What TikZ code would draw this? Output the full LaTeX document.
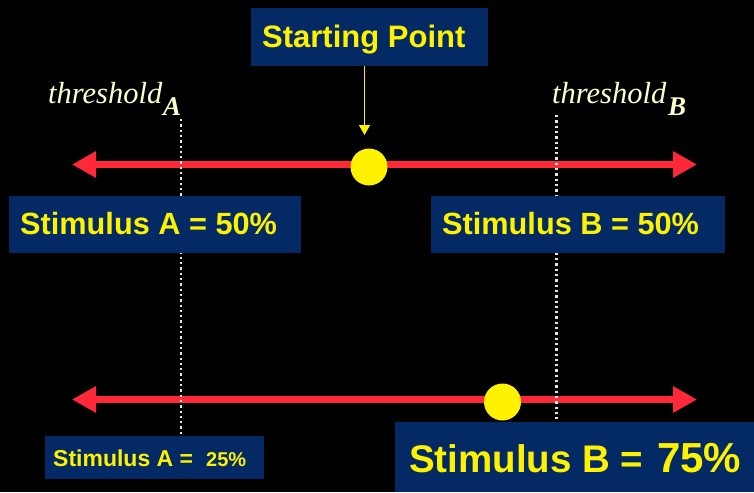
\documentclass[tikz,border=0pt]{standalone}
\usepackage{fontspec}
\setmainfont{Liberation Sans}
\newfontfamily\serifit{Liberation Serif}
\usetikzlibrary{arrows.meta}
\definecolor{navy}{RGB}{4,42,102}
\definecolor{redline}{RGB}{255,40,56}
\definecolor{cream}{RGB}{255,255,204}
\definecolor{dotgray}{RGB}{230,230,230}
\tikzset{
  panel/.style={fill=navy,draw=none,inner sep=0pt,anchor=north west},
  lbl/.style={text=yellow,font=\bfseries,inner sep=0pt,anchor=base west},
  scale line/.style={draw=redline,line width=7pt,
    {Triangle[length=24pt,width=25pt]}-{Triangle[length=24pt,width=25pt]}},
  thr/.style={draw=dotgray,line width=2.3pt,dash pattern=on 2.3pt off 3pt},
  thrlbl/.style={text=cream,inner sep=0pt,anchor=base west},
  thrword/.style={thrlbl,font=\serifit\itshape\fontsize{30.5}{30}\selectfont},
  thrsub/.style={thrlbl,font=\serifit\bfseries\itshape\fontsize{27}{27}\selectfont},
  marker/.style={circle,fill=yellow,draw=none,minimum size=37pt,inner sep=0pt},
  pointer/.style={draw=yellow,line width=1.5pt,-{Triangle[length=10pt,width=11pt]}}
}
\begin{document}
\begin{tikzpicture}[x=1pt,y=-1pt]
\fill[black] (0,0) rectangle (754,492);
\useasboundingbox (0,0) rectangle (754,492);

% scale lines
\coordinate (l1a) at (72,164.5);
\coordinate (l1b) at (697,164.5);
\coordinate (l2a) at (72,399.5);
\coordinate (l2b) at (697,399.5);
\draw[scale line] (l1a) -- (l1b);
\draw[scale line] (l2a) -- (l2b);

% thresholds
\coordinate (tAtop) at (181,119);
\coordinate (tAbot) at (181,440);
\coordinate (tBtop) at (556.5,115);
\coordinate (tBbot) at (556.5,425);
\draw[thr] (tAtop) -- (tAbot);
\draw[thr] (tBtop) -- (tBbot);
\node[thrword] (thA) at (48,104) {threshold};
\node[thrsub] (thAs) at (163,116) {A};
\node[thrword] (thB) at (552,104) {threshold};
\node[thrsub] (thBs) at (668,116) {B};

% boxes
\node[panel,minimum width=237pt,minimum height=58pt] (sp) at (251,8) {};
\node[lbl,font=\bfseries\fontsize{31}{31}\selectfont] (spt) at (262,48) {Starting Point};

\node[panel,minimum width=292pt,minimum height=57pt] (bA50) at (9,196) {};
\node[lbl,font=\bfseries\fontsize{30.7}{31}\selectfont] (tA50) at (20,234) {Stimulus A = 50\%};

\node[panel,minimum width=294pt,minimum height=57pt] (bB50) at (431,196) {};
\node[lbl,font=\bfseries\fontsize{30.7}{31}\selectfont] (tB50) at (442,234) {Stimulus B = 50\%};

\node[panel,minimum width=219pt,minimum height=43pt] (bA25) at (45,436) {};
\node[lbl,font=\bfseries\fontsize{23}{23}\selectfont] (tA25) at (53,466) {Stimulus A =};
\node[lbl,font=\bfseries\fontsize{20}{20}\selectfont] (tA25n) at (206,466) {25\%};

\node[panel,minimum width=359pt,minimum height=70pt] (bB75) at (395,422) {};
\node[lbl,font=\bfseries\fontsize{38.5}{39}\selectfont] (tB75) at (409,472) {Stimulus B =};
\node[lbl,font=\bfseries\fontsize{42}{42}\selectfont] (tB75n) at (657,472) {75\%};

% markers
\node[marker] (m1) at (369,167) {};
\node[marker] (m2) at (502.5,402) {};

% pointer
\coordinate (ptip) at (364.5,135);
\draw[pointer] (sp.south -| ptip) -- (ptip);
\end{tikzpicture}
\end{document}
